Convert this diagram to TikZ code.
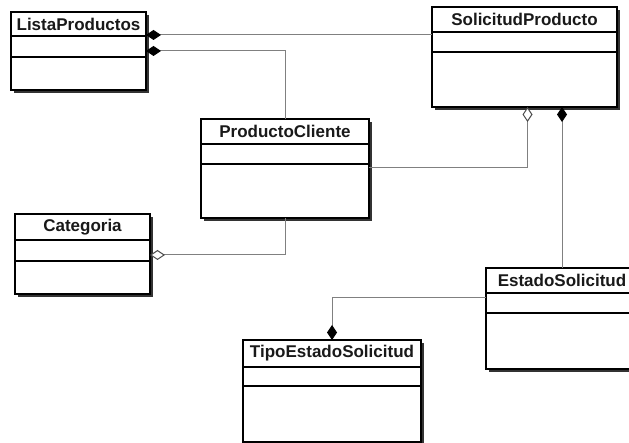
\documentclass[tikz,border=0pt]{standalone}
\usepackage{fontspec}
\setmainfont{Liberation Sans}
\usetikzlibrary{arrows.meta,shadows,calc}

\tikzset{
  classbox/.style={draw=black, line width=1.3pt, fill=white, anchor=north west,
    inner sep=0pt, outer sep=0pt,
    drop shadow={shadow xshift=3pt, shadow yshift=-3pt, fill=black!80, opacity=1}},
  classtitle/.style={font=\fontsize{17}{19}\selectfont\bfseries, inner sep=0pt, text=black!90},
  sep/.style={draw=black, line width=1.2pt},
  link/.style={draw=black!50, line width=1pt},
  comp/.style={link, {Diamond[length=15pt,width=10pt,fill=black,color=black]}-},
  agg/.style={link, {Diamond[open,length=15pt,width=10pt,fill=white,color=black!70,line width=1pt]}-}
}

% name, x, y, width, height, title, first separator, second separator
\newcommand\umlclass[8]{%
  \node[classbox, minimum width=#4pt, minimum height=#5pt] (#1) at (#2,#3) {};
  \node[classtitle] (#1-t) at ([yshift={-0.5*#7pt}]#1.north) {#6};
  \draw[sep] ([yshift=-#7pt]#1.north west) -- ([yshift=-#7pt]#1.north east);
  \draw[sep] ([yshift=-#8pt]#1.north west) -- ([yshift=-#8pt]#1.north east);
}

\begin{document}
\begin{tikzpicture}[x=1pt,y=-1pt]
  \useasboundingbox (0,0) rectangle (629,443);
  \clip (0,0) rectangle (629,443);

  \umlclass{lp}{11}{12}{135}{78}{ListaProductos}{24}{45}
  \umlclass{sp}{432}{7}{185}{100}{SolicitudProducto}{25}{45}
  \umlclass{pc}{201}{119}{168}{99}{ProductoCliente}{25}{45}
  \umlclass{cat}{15}{214}{135}{80}{Categoria}{26}{47}
  \umlclass{es}{486}{268}{152}{101}{EstadoSolicitud}{25}{45}
  \umlclass{te}{243}{340}{178}{102}{TipoEstadoSolicitud}{27}{46}

  % associations
  \draw[comp] ([yshift=-23pt]lp.north east) coordinate (a1) -- (a1 -| sp.west);
  \draw[comp] ([yshift=-39pt]lp.north east) -| (pc.north);
  \draw[agg] ([xshift=3pt]sp.south) |- ([yshift=-49pt]pc.north east);
  \draw[comp] (es.north |- sp.south) -- (es.north);
  \draw[agg] ([yshift=-41pt]cat.north east) -| (pc.south);
  \draw[comp] (te.north) |- ([yshift=-30pt]es.north west);
\end{tikzpicture}
\end{document}
